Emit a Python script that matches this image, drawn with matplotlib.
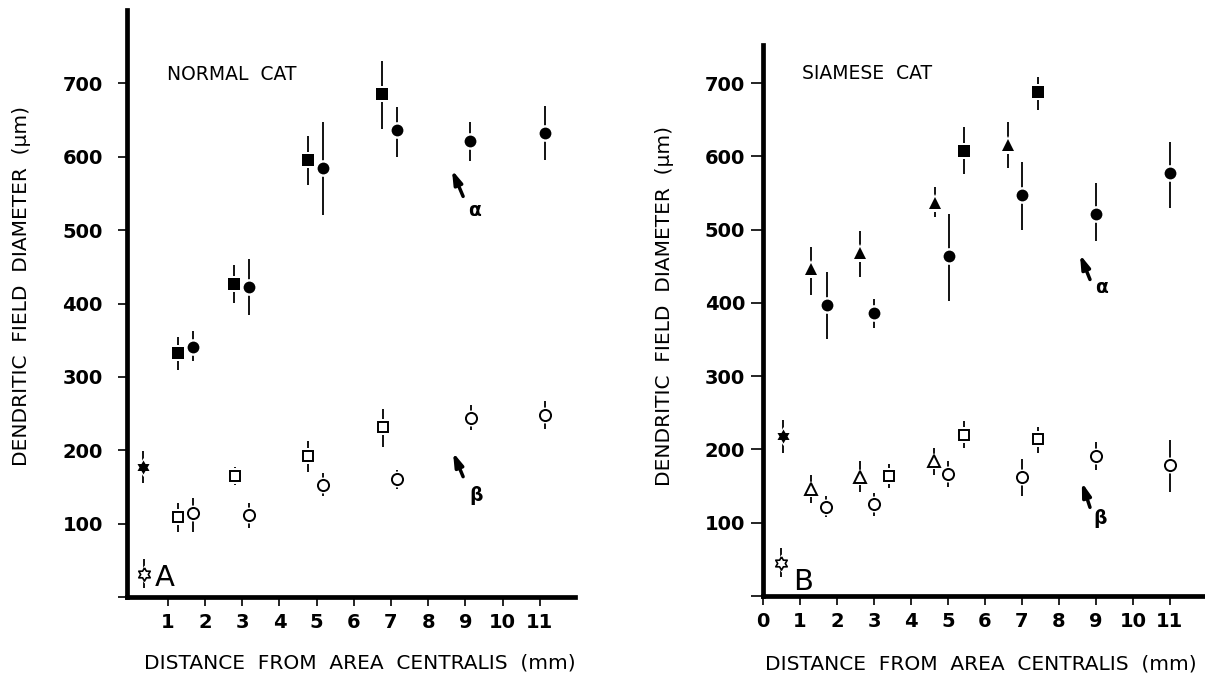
import numpy as np
import matplotlib
matplotlib.use("Agg")
import matplotlib.pyplot as plt

plt.rcParams['font.family'] = ['DejaVu Sans']

# ---------------- data: NORMAL CAT (panel A) ----------------
A_sq_f_x = [1.28, 2.78, 4.76, 6.77]
A_sq_f_y = [333, 426, 595, 685]
A_sq_f_lo = [309, 401, 561, 638]
A_sq_f_hi = [354, 453, 628, 731]

A_ci_f_x = [1.67, 3.17, 5.17, 7.15, 9.12, 11.13]
A_ci_f_y = [341, 423, 584, 636, 622, 633]
A_ci_f_lo = [321, 385, 521, 600, 594, 595]
A_ci_f_hi = [362, 460, 647, 668, 648, 669]

A_st_f_x = [0.34]
A_st_f_y = [177]
A_st_f_lo = [156]
A_st_f_hi = [199]

A_sq_o_x = [1.28, 2.80, 4.76, 6.78]
A_sq_o_y = [109, 165, 192, 232]
A_sq_o_lo = [89, 153, 171, 205]
A_sq_o_hi = [128, 177, 213, 256]

A_ci_o_x = [1.67, 3.18, 5.17, 7.16, 9.15, 11.14]
A_ci_o_y = [114, 112, 153, 161, 244, 248]
A_ci_o_lo = [89, 94, 137, 147, 228, 229]
A_ci_o_hi = [135, 128, 169, 173, 262, 267]

A_st_o_x = [0.35]
A_st_o_y = [31]
A_st_o_lo = [12]
A_st_o_hi = [52]

# ---------------- data: SIAMESE CAT (panel B) ----------------
B_tr_f_x = [1.29, 2.62, 4.65, 6.62]
B_tr_f_y = [446, 468, 537, 615]
B_tr_f_lo = [411, 435, 517, 584]
B_tr_f_hi = [476, 498, 558, 647]

B_ci_f_x = [1.72, 3.0, 5.03, 7.0, 9.0, 11.0]
B_ci_f_y = [397, 386, 464, 547, 522, 577]
B_ci_f_lo = [351, 366, 402, 499, 484, 529]
B_ci_f_hi = [442, 405, 522, 592, 563, 619]

B_sq_f_x = [5.43, 7.43]
B_sq_f_y = [607, 688]
B_sq_f_lo = [576, 663]
B_sq_f_hi = [640, 709]

B_st_f_x = [0.54]
B_st_f_y = [218]
B_st_f_lo = [195]
B_st_f_hi = [240]

B_tr_o_x = [1.3, 2.62, 4.63]
B_tr_o_y = [146, 162, 184]
B_tr_o_lo = [127, 142, 165]
B_tr_o_hi = [165, 184, 202]

B_ci_o_x = [1.7, 3.0, 5.0, 7.0, 9.0, 11.0]
B_ci_o_y = [122, 125, 166, 162, 191, 179]
B_ci_o_lo = [108, 109, 149, 137, 172, 142]
B_ci_o_hi = [136, 140, 184, 187, 210, 213]

B_sq_o_x = [3.41, 5.43, 7.43]
B_sq_o_y = [164, 220, 214]
B_sq_o_lo = [148, 202, 195]
B_sq_o_hi = [180, 239, 231]

B_st_o_x = [0.5]
B_st_o_y = [45]
B_st_o_lo = [26]
B_st_o_hi = [65]

y_ticks = [0, 100, 200, 300, 400, 500, 600, 700]
y_ticklabels = ['', '100', '200', '300', '400', '500', '600', '700']
A_x_ticks = [1, 2, 3, 4, 5, 6, 7, 8, 9, 10, 11]
B_x_ticks = [0, 1, 2, 3, 4, 5, 6, 7, 8, 9, 10, 11]

# arrow annotations (tail, tip, label position)
A_alpha_arrow = ((8.94, 546), (8.64, 582), (9.07, 527))
A_beta_arrow = ((8.94, 164), (8.67, 197), (9.10, 138))
B_alpha_arrow = ((8.84, 432), (8.57, 466), (8.97, 421))
B_beta_arrow = ((8.84, 121), (8.62, 155), (8.92, 106))

# ---------------- styling helpers ----------------
k = np.arange(6)
outer = np.deg2rad(90 + 60 * k)
inner = np.deg2rad(120 + 60 * k)
r_in = 1 / np.sqrt(3)
hexagram = []
for a, b in zip(outer, inner):
    hexagram.append((np.cos(a), np.sin(a)))
    hexagram.append((r_in * np.cos(b), r_in * np.sin(b)))
hexagram.append(hexagram[0])

TICKFONT = dict(family='DejaVu Sans', weight='bold', size=14)


def series(ax, x, y, lo, hi, marker, ms, filled, mew=1.4):
    ax.vlines(x, lo, hi, color='black', lw=1.3, zorder=1)
    ax.plot(x, y, ls='none', marker=marker, ms=ms + 3.5, mfc='white',
            mec='white', mew=0, zorder=2)
    ax.plot(x, y, ls='none', marker=marker, ms=ms,
            mfc='black' if filled else 'white', mec='black',
            mew=0 if filled else mew, zorder=3)


def style_axes(ax, xticks, xlim, ylim, ytick_len, ytick_pad):
    for s in ['top', 'right']:
        ax.spines[s].set_visible(False)
    for s in ['left', 'bottom']:
        ax.spines[s].set_linewidth(3.4)
        ax.spines[s].set_capstyle('projecting')
    ax.set_xlim(*xlim)
    ax.set_ylim(*ylim)
    ax.set_yticks(y_ticks)
    ax.set_yticklabels(y_ticklabels, fontdict=TICKFONT)
    ax.set_xticks(xticks)
    ax.set_xticklabels([str(t) for t in xticks], fontdict=TICKFONT)
    ax.tick_params(axis='y', length=ytick_len, width=1.2, pad=ytick_pad,
                   direction='out')
    ax.tick_params(axis='x', length=6.5, width=1.2, pad=5, direction='out')
    ax.patch.set_alpha(0)


def arrow(ax, spec, label):
    tail, tip, lab = spec
    ax.annotate('', xy=tip, xytext=tail,
                arrowprops=dict(arrowstyle='-|>,head_length=0.8,head_width=0.25',
                                lw=2.5, color='black', shrinkA=0, shrinkB=0))
    ax.text(lab[0], lab[1], label, fontsize=13.5, weight='bold',
            ha='left', va='center')


fig = plt.figure(figsize=(12.05, 6.77), dpi=100)

# ---------------- panel A ----------------
axA = fig.add_axes([127 / 1205, 80 / 677, 448 / 1205, 587 / 677])
series(axA, A_sq_f_x, A_sq_f_y, A_sq_f_lo, A_sq_f_hi, 's', 8, True)
series(axA, A_ci_f_x, A_ci_f_y, A_ci_f_lo, A_ci_f_hi, 'o', 8.5, True)
series(axA, A_st_f_x, A_st_f_y, A_st_f_lo, A_st_f_hi, hexagram, 10, True)
series(axA, A_sq_o_x, A_sq_o_y, A_sq_o_lo, A_sq_o_hi, 's', 7.5, False)
series(axA, A_ci_o_x, A_ci_o_y, A_ci_o_lo, A_ci_o_hi, 'o', 8, False)
series(axA, A_st_o_x, A_st_o_y, A_st_o_lo, A_st_o_hi, hexagram, 9.5, False, mew=1.2)
style_axes(axA, A_x_ticks, (-0.1, 11.95), (0, 800), 6.5, 11)
axA.text(0.98, 712, 'NORMAL  CAT', fontsize=13.5, ha='left', va='center')
axA.text(0.66, 26, 'A', fontsize=21, ha='left', va='center')
arrow(axA, A_alpha_arrow, 'α')
arrow(axA, A_beta_arrow, 'β')

# ---------------- panel B ----------------
axB = fig.add_axes([763 / 1205, 81 / 677, 442 / 1205, 551 / 677])
series(axB, B_tr_f_x, B_tr_f_y, B_tr_f_lo, B_tr_f_hi, '^', 9, True)
series(axB, B_ci_f_x, B_ci_f_y, B_ci_f_lo, B_ci_f_hi, 'o', 8.5, True)
series(axB, B_sq_f_x, B_sq_f_y, B_sq_f_lo, B_sq_f_hi, 's', 8, True)
series(axB, B_st_f_x, B_st_f_y, B_st_f_lo, B_st_f_hi, hexagram, 10, True)
series(axB, B_tr_o_x, B_tr_o_y, B_tr_o_lo, B_tr_o_hi, '^', 8.5, False)
series(axB, B_ci_o_x, B_ci_o_y, B_ci_o_lo, B_ci_o_hi, 'o', 8, False)
series(axB, B_sq_o_x, B_sq_o_y, B_sq_o_lo, B_sq_o_hi, 's', 7.5, False)
series(axB, B_st_o_x, B_st_o_y, B_st_o_lo, B_st_o_hi, hexagram, 9.5, False, mew=1.2)
style_axes(axB, B_x_ticks, (0, 11.95), (0, 752), 9, 4)
axB.text(1.05, 713, 'SIAMESE  CAT', fontsize=13.5, ha='left', va='center')
axB.text(0.82, 19, 'B', fontsize=21, ha='left', va='center')
arrow(axB, B_alpha_arrow, 'α')
arrow(axB, B_beta_arrow, 'β')

# ---------------- axis labels ----------------
ylab = 'DENDRITIC  FIELD  DIAMETER  (μm)'
xlab = 'DISTANCE  FROM  AREA  CENTRALIS  (mm)'
fig.text(22 / 1205, 1 - 286 / 677, ylab, rotation=90, fontsize=14.5,
         ha='center', va='center')
fig.text(665 / 1205, 1 - 306 / 677, ylab, rotation=90, fontsize=14.5,
         ha='center', va='center')
fig.text(360 / 1205, 1 - 663 / 677, xlab, fontsize=14.5, ha='center', va='center')
fig.text(981 / 1205, 1 - 664 / 677, xlab, fontsize=14.5, ha='center', va='center')

fig.savefig('out.png', dpi=100)
